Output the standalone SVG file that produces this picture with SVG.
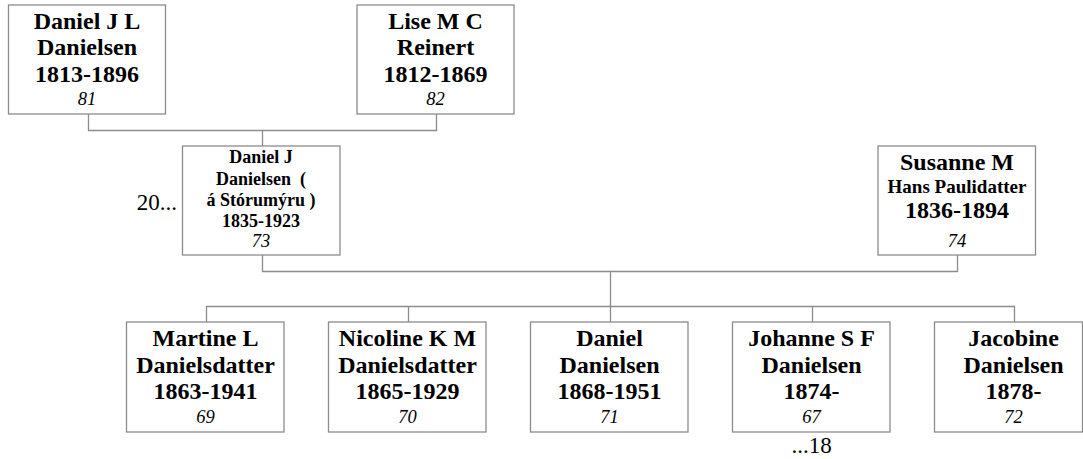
<svg xmlns="http://www.w3.org/2000/svg" width="1083" height="459" viewBox="0 0 1083 459">
<style>
.box{fill:#fff;stroke:#8c8c8c;stroke-width:1.3}
.ln{fill:none;stroke:#8c8c8c;stroke-width:1.3}
text{font-family:"Liberation Serif","Times New Roman",serif;fill:#000;text-anchor:middle}
.b{font-weight:bold;font-size:24px}
.s{font-weight:bold;font-size:18px}
.m{font-weight:bold;font-size:19px}
.i{font-style:italic;font-size:18.5px}
.r{font-size:23px}
</style>
<rect width="1083" height="459" fill="#fff"/>
<g id="connectors">
<path class="ln" d="M88.5 114 V130.5 H436.5 V114"/>
<path class="ln" d="M262.5 130.5 V146"/>
<path class="ln" d="M262.5 255 V271.5 H957.5 V255"/>
<path class="ln" d="M610.5 271.5 V322"/>
<path class="ln" d="M206.5 322 V306.5 H1014.5 V322"/>
<path class="ln" d="M408.5 306.5 V322"/>
<path class="ln" d="M812.5 306.5 V322"/>
</g>
<g id="n81">
<rect class="box" x="8.5" y="5" width="157" height="109"/>
<text class="b" x="87" y="29">Daniel J L</text>
<text class="b" x="87" y="54.5">Danielsen</text>
<text class="b" x="87" y="81.5">1813-1896</text>
<text class="i" x="87" y="105">81</text>
</g>
<g id="n82">
<rect class="box" x="357" y="5" width="157" height="109"/>
<text class="b" x="435.5" y="29">Lise M C</text>
<text class="b" x="435.5" y="54.5">Reinert</text>
<text class="b" x="435.5" y="81.5">1812-1869</text>
<text class="i" x="435.5" y="105">82</text>
</g>
<g id="n73">
<rect class="box" x="182.5" y="146" width="157.5" height="109"/>
<text class="s" x="261" y="163">Daniel J</text>
<text class="s" x="261" y="185" xml:space="preserve">Danielsen  (</text>
<text class="s" x="261" y="206">á Stórumýru )</text>
<text class="s" x="261" y="227">1835-1923</text>
<text class="i" x="261" y="247">73</text>
<text class="r" x="177" y="210" style="text-anchor:end">20...</text>
</g>
<g id="n74">
<rect class="box" x="878" y="146" width="157.5" height="109"/>
<text class="b" x="957" y="170">Susanne M</text>
<text class="m" x="957" y="193">Hans Paulidatter</text>
<text class="b" x="957" y="217.5">1836-1894</text>
<text class="i" x="957" y="247">74</text>
</g>
<g id="n69">
<rect class="box" x="126.5" y="322" width="157.5" height="110"/>
<text class="b" x="205.5" y="346">Martine L</text>
<text class="b" x="205.5" y="372.5">Danielsdatter</text>
<text class="b" x="205.5" y="399">1863-1941</text>
<text class="i" x="205.5" y="423">69</text>
</g>
<g id="n70">
<rect class="box" x="328.5" y="322" width="157.5" height="110"/>
<text class="b" x="407.5" y="346">Nicoline K M</text>
<text class="b" x="407.5" y="372.5">Danielsdatter</text>
<text class="b" x="407.5" y="399">1865-1929</text>
<text class="i" x="407.5" y="423">70</text>
</g>
<g id="n71">
<rect class="box" x="530.5" y="322" width="157.5" height="110"/>
<text class="b" x="609.5" y="346">Daniel</text>
<text class="b" x="609.5" y="372.5">Danielsen</text>
<text class="b" x="609.5" y="399">1868-1951</text>
<text class="i" x="609.5" y="423">71</text>
</g>
<g id="n67">
<rect class="box" x="732.5" y="322" width="157.5" height="110"/>
<text class="b" x="811.5" y="346">Johanne S F</text>
<text class="b" x="811.5" y="372.5">Danielsen</text>
<text class="b" x="811.5" y="399">1874-</text>
<text class="i" x="811.5" y="423">67</text>
<text class="r" x="811.5" y="453">...18</text>
</g>
<g id="n72">
<rect class="box" x="934.5" y="322" width="148" height="110"/>
<text class="b" x="1013.5" y="346">Jacobine</text>
<text class="b" x="1013.5" y="372.5">Danielsen</text>
<text class="b" x="1013.5" y="399">1878-</text>
<text class="i" x="1013.5" y="423">72</text>
</g>
</svg>
